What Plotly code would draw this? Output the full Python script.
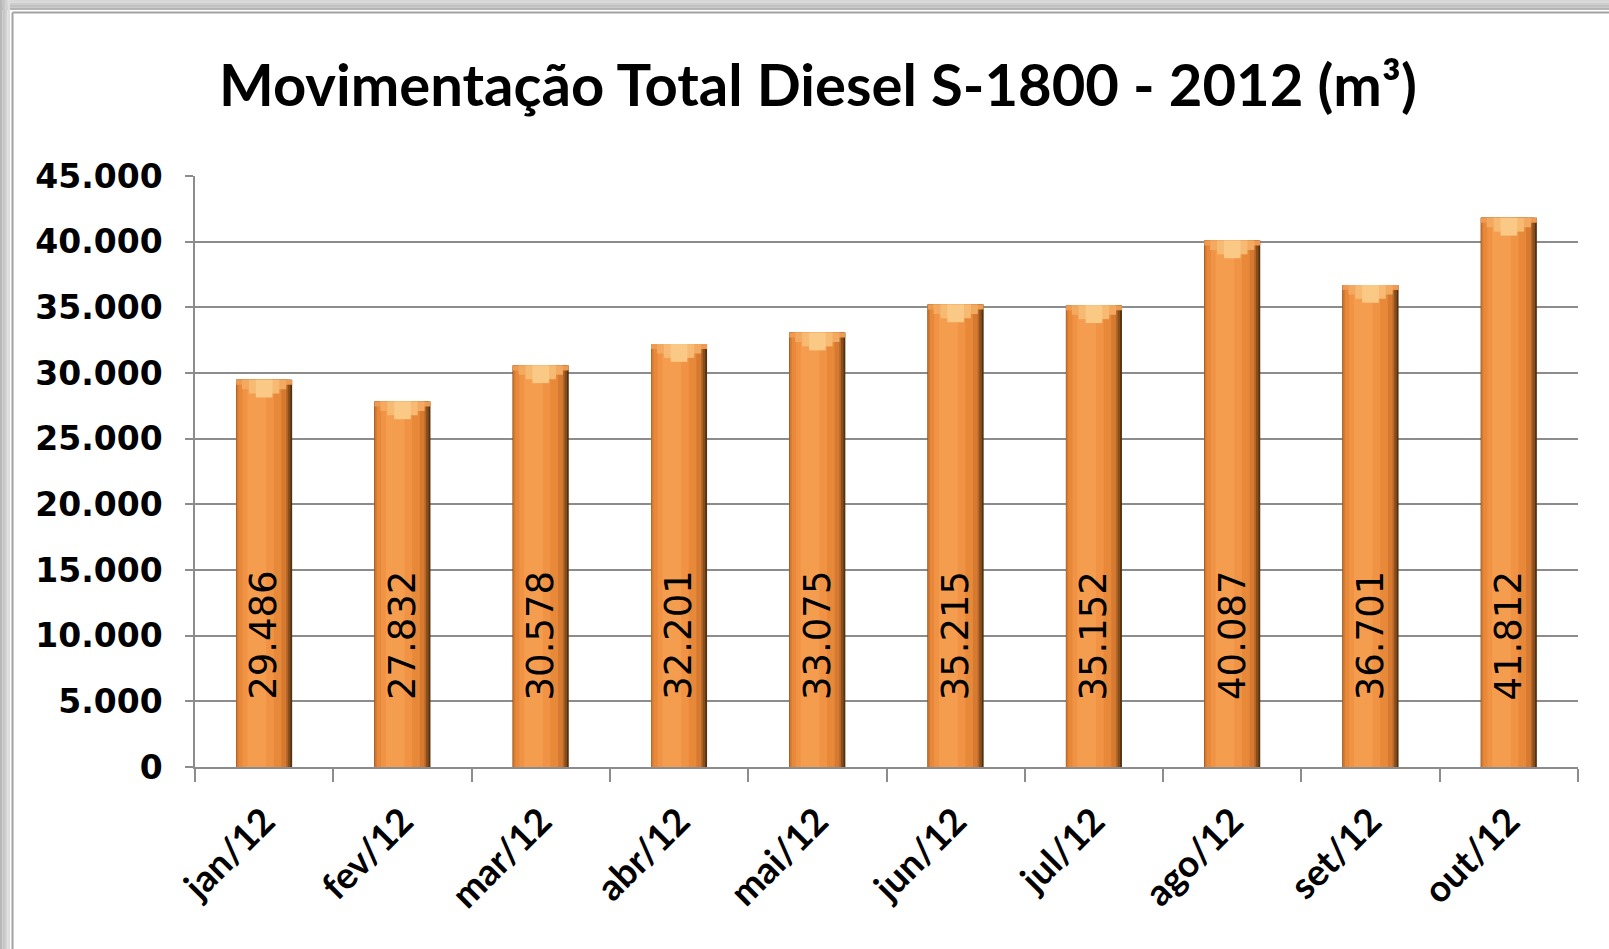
import plotly.graph_objects as go

# ---- data ----
months = ["jan/12", "fev/12", "mar/12", "abr/12", "mai/12",
          "jun/12", "jul/12", "ago/12", "set/12", "out/12"]
volumes = [29486, 27832, 30578, 32201, 33075, 35215, 35152, 40087, 36701, 41812]
title_text = "Movimentação Total Diesel S-1800 - 2012 (m³)"
y_max = 45000
y_step = 5000
label_y = 10000

# ---- layout geometry (pixels) ----
W, H = 1609, 949
ML, MR, MT, MB = 195, 31, 176, 182
PW, PH = W - ML - MR, H - MT - MB


def xf(px):
    return (px - ML) / PW


def yf(py):
    return (H - MB - py) / PH


fig = go.Figure()

# body of the bars: layered overlays for a cylinder-like horizontal gradient
HALF = 0.2025
body_layers = [
    (-HALF, 0.405, "#55310f"),
    (-HALF, 0.392, "#844e1d"),
    (-HALF, 0.374, "#b66628"),
    (-0.197, 0.356, "#d77a31"),
    (-0.185, 0.31, "#e8893a"),
    (-0.155, 0.225, "#f09344"),
    (-0.12, 0.135, "#f59d4e"),
]
for off, wd, col in body_layers:
    fig.add_trace(go.Bar(
        x=months, y=volumes, offset=off, width=wd,
        marker=dict(color=col, line=dict(width=0)),
        hoverinfo="skip", showlegend=False,
    ))

# bevelled top (stepped V highlight), anchored to each bar's value
top_layers = [
    (-HALF, 0.405, 380, "#ee9a50"),
    (-0.16, 0.32, 720, "#f3aa60"),
    (-0.11, 0.22, 1050, "#f7ba72"),
    (-0.06, 0.12, 1350, "#fac986"),
]
for off, wd, depth, col in top_layers:
    fig.add_trace(go.Bar(
        x=months, y=[depth] * len(volumes),
        base=[v - depth for v in volumes],
        offset=off, width=wd,
        marker=dict(color=col, line=dict(width=0)),
        hoverinfo="skip", showlegend=False,
    ))

# value labels
for m, v in zip(months, volumes):
    fig.add_annotation(
        x=m, y=label_y, text=f"{v:,}".replace(",", "."),
        textangle=-90, showarrow=False, xanchor="center", yanchor="middle",
        font=dict(family="DejaVu Sans", size=37, color="#000000"),
    )

# frame (grey bevel on top/left, thin border)
shapes = []
top_cols = ["#d8d8d8", "#cdcdcd", "#c2c2c2", "#b4b4b4"]
for i, c in enumerate(top_cols):
    shapes.append(dict(type="rect", xref="paper", yref="paper",
                       x0=xf(0), x1=xf(W), y0=yf(i * 2.5), y1=yf((i + 1) * 2.5),
                       fillcolor=c, line=dict(width=0), layer="below"))
left_cols = ["#b8b8b8", "#c6c6c6", "#d2d2d2", "#dedede"]
for i, c in enumerate(left_cols):
    shapes.append(dict(type="rect", xref="paper", yref="paper",
                       x0=xf(i * 2.5), x1=xf((i + 1) * 2.5), y0=yf(0), y1=yf(H),
                       fillcolor=c, line=dict(width=0), layer="below"))
shapes.append(dict(type="line", xref="paper", yref="paper",
                   x0=xf(12.5), x1=xf(W), y0=yf(12.5), y1=yf(12.5),
                   line=dict(color="#a2a2a2", width=2), layer="below"))
shapes.append(dict(type="line", xref="paper", yref="paper",
                   x0=xf(12.5), x1=xf(12.5), y0=yf(12.5), y1=yf(H),
                   line=dict(color="#a2a2a2", width=2), layer="below"))

fig.update_layout(
    width=W, height=H, autosize=False,
    margin=dict(l=ML, r=MR, t=MT, b=MB, pad=0),
    paper_bgcolor="white", plot_bgcolor="rgba(0,0,0,0)",
    barmode="overlay",
    separators=",.",
    showlegend=False,
    shapes=shapes,
    title=dict(
        text=title_text, x=818 / W, xanchor="center",
        y=1 - 86 / H, yanchor="middle", yref="container",
        font=dict(family="Lato", size=58, color="#000000", weight="bold"),
    ),
    xaxis=dict(
        type="category", tickson="boundaries", ticks="outside", ticklen=13,
        tickcolor="#8c8c8c", tickwidth=1.5,
        showline=True, linecolor="#8c8c8c", linewidth=1.5,
        showgrid=False, tickangle=-45,
        tickfont=dict(family="Lato", size=37, color="#000000", weight="bold"),
        ticklabelstandoff=16,
    ),
    yaxis=dict(
        range=[0, y_max], dtick=y_step, tick0=0, tickformat=",d",
        ticks="outside", ticklen=8, tickcolor="#8c8c8c", tickwidth=1.5,
        showline=True, linecolor="#8c8c8c", linewidth=1.5,
        showgrid=True, gridcolor="#8c8c8c", gridwidth=1.5,
        zeroline=False,
        tickfont=dict(family="DejaVu Sans", size=33, color="#000000", weight="bold"),
        ticklabelstandoff=16,
    ),
)

fig.write_html(
    "out.html",
    config={"displayModeBar": False},
    post_script="document.body.style.margin='0';document.body.style.overflow='hidden';",
)
